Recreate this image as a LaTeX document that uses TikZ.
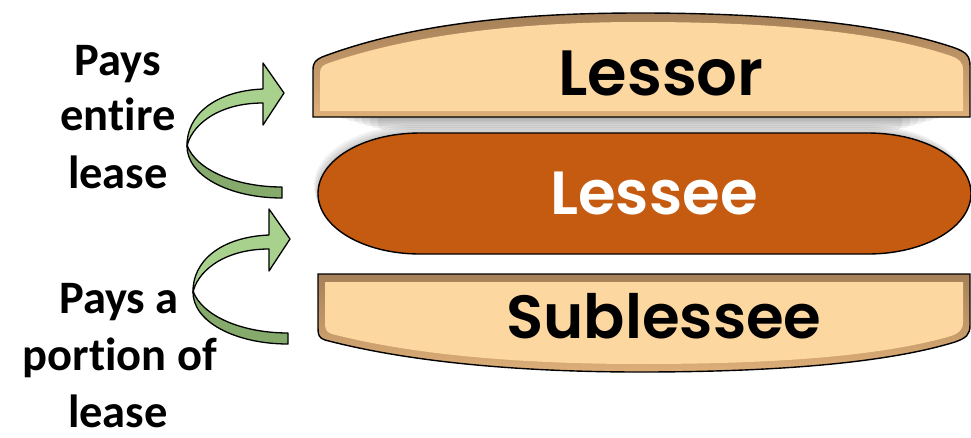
\documentclass[tikz,border=0pt]{standalone}
\usepackage{fontspec}
\setmainfont{Carlito}[Ligatures=NoCommon]
\newfontfamily\popfont{Poppins SemiBold}
\definecolor{peach}{HTML}{FDD7A0}
\definecolor{bevtan}{HTML}{DDAE78}
\definecolor{bevdark}{HTML}{A58058}
\definecolor{lesseeor}{HTML}{C55A11}
\definecolor{glight}{HTML}{A9D18E}
\definecolor{gdark}{HTML}{86AA6C}
\tikzset{
  labeltext/.style={font=\fontsize{46.5}{57}\selectfont\bfseries, inner sep=0pt, anchor=base},
  boxtext/.style={inner sep=0pt, anchor=base},
  edge/.style={draw=black, line width=1.4pt},
  gwarrow/.pic={
    \filldraw[fill=gdark, draw=black, line width=1.3pt, line join=round]
      (187,145) .. controls (186,176) and (230,198) .. (282,198) -- (282,187)
      .. controls (236,187) and (196,170) .. (187,145) -- cycle;
    \filldraw[fill=glight, draw=black, line width=1.3pt, line join=round]
      (263,89) .. controls (215,91) and (186,115) .. (187,147)
      .. controls (190,128) and (215,103) .. (263,103) -- (263,125) -- (284,93) -- (263,63) -- cycle;
  }
}
\begin{document}
\begin{tikzpicture}[x=1pt,y=-1pt]
\useasboundingbox (0,0) rectangle (971,437);
\fill[white] (0,0) rectangle (971,437);

% ---------- Lessor ----------
\foreach \i in {1,...,6}
  \fill[black,opacity=0.06,rounded corners=6pt] (330+\i*8,112) rectangle (950-\i*8,117+\i*2.2);
\shade[top color=bevdark, bottom color=bevtan]
  (313,117) -- (313,70) .. controls (313,62) and (316,60) .. (322,57)
  .. controls (420,20) and (540,13) .. (640,13) .. controls (760,13) and (880,22) .. (955,48)
  .. controls (966,52) and (970,56) .. (970,66) -- (970,117) -- cycle;
\fill[peach]
  (320,111) -- (320,73) .. controls (320,67) and (323,65) .. (329,63)
  .. controls (425,30) and (545,22) .. (640,22) .. controls (760,22) and (875,30) .. (951,56)
  .. controls (959,59) and (963,62) .. (963,70) -- (963,111) -- cycle;
\draw[edge]
  (313,117) -- (313,70) .. controls (313,62) and (316,60) .. (322,57)
  .. controls (420,20) and (540,13) .. (640,13) .. controls (760,13) and (880,22) .. (955,48)
  .. controls (966,52) and (970,56) .. (970,66) -- (970,117) -- cycle;
\node[boxtext, font=\popfont\fontsize{64}{70}\selectfont] (lessor) at (661,95) {Lessor};

% ---------- Lessee ----------
\foreach \s in {2,4,6,8}
  \fill[black,opacity=0.05]
   ([shift={(-\s*0.5,-\s)}]868,133) .. controls ([shift={(-\s*0.5,-\s)}]925,133) and ([shift={(-\s*0.5,-\s)}]971,160) .. ([shift={(-\s*0.5,-\s)}]971,193.5)
   .. controls ([shift={(-\s*0.5,-\s)}]971,227) and ([shift={(-\s*0.5,-\s)}]925,254) .. ([shift={(-\s*0.5,-\s)}]868,254)
   -- ([shift={(-\s*0.5,-\s)}]420,254) .. controls ([shift={(-\s*0.5,-\s)}]363,254) and ([shift={(-\s*0.5,-\s)}]318,227) .. ([shift={(-\s*0.5,-\s)}]318,193.5)
   .. controls ([shift={(-\s*0.5,-\s)}]318,160) and ([shift={(-\s*0.5,-\s)}]363,133) .. ([shift={(-\s*0.5,-\s)}]420,133) -- cycle;
\filldraw[fill=lesseeor, edge]
  (868,133) .. controls (925,133) and (971,160) .. (971,193.5)
  .. controls (971,227) and (925,254) .. (868,254) -- (420,254)
  .. controls (363,254) and (318,227) .. (318,193.5)
  .. controls (318,160) and (363,133) .. (420,133) -- cycle;
\node[boxtext, text=white, font=\popfont\fontsize{61}{66}\selectfont] (lessee) at (654,214) {Lessee};

% ---------- Sublessee ----------
\shade[top color=bevdark, bottom color=bevtan]
  (318,274) -- (970,274) -- (970,325) .. controls (970,335) and (966,338) .. (955,342)
  .. controls (880,365) and (760,372) .. (640,372) .. controls (540,372) and (420,365) .. (325,340)
  .. controls (319,338) and (318,335) .. (318,328) -- cycle;
\fill[peach]
  (325,282) -- (963,282) -- (963,322) .. controls (963,330) and (959,333) .. (951,336)
  .. controls (875,358) and (760,364) .. (640,364) .. controls (545,364) and (425,358) .. (332,334)
  .. controls (326,332) and (325,329) .. (325,322) -- cycle;
\draw[edge]
  (318,274) -- (970,274) -- (970,325) .. controls (970,335) and (966,338) .. (955,342)
  .. controls (880,365) and (760,372) .. (640,372) .. controls (540,372) and (420,365) .. (325,340)
  .. controls (319,338) and (318,335) .. (318,328) -- cycle;
\node[boxtext, font=\popfont\fontsize{61}{66}\selectfont] (sublessee) at (664,338) {Sublessee};

% ---------- arrows ----------
\pic at (0,0) {gwarrow};
\pic at (6,146) {gwarrow};

% ---------- labels ----------
\node[labeltext] (l1a) at (118,75) {Pays};
\node[labeltext] (l1b) at (118,130) {entire};
\node[labeltext] (l1c) at (118,188) {lease};
\node[labeltext] (l2a) at (119,313) {Pays a};
\node[labeltext] (l2b) at (120,370) {portion of};
\node[labeltext] (l2c) at (118,427) {lease};
\end{tikzpicture}
\end{document}
